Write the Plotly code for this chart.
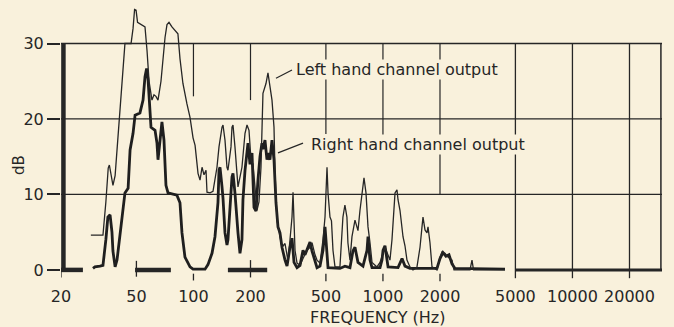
import plotly.graph_objects as go

# Left hand channel output (thin trace): frequency in Hz, level in dB
left_freq = [28.75, 33.3, 34.5, 35.5, 36.0, 36.7, 37.6, 38.6, 39.5, 41.5, 43.5, 46.85, 48.0, 48.9,
             49.8, 50.7, 53.5, 55.5, 56.9, 58.3, 60.4, 61.9, 63.4, 65.0, 67.4, 70.8, 72.5, 74.3,
             77.0, 79.9, 82.8, 84.9, 88.0, 92.4, 95.9, 99.5, 102, 105.7, 108.3, 111, 113.7, 116.5,
             117.9, 122.3, 126.8, 133.1, 136.4, 141.5, 143.2, 146.7, 150.3, 152.1, 157.8, 159.7,
             161.7, 165.6, 169.7, 171.8, 180.3, 187.1, 191.7, 196.4, 201.2, 206.2, 211.2, 216.4,
             221.7, 227.2, 232.7, 241.4, 247.3, 253.4, 259.7, 266.1, 269.3, 275.9, 282.7, 293.2,
             304.2, 315.5, 323.2, 331.2, 335.3, 339.4, 343.5, 352, 365, 378.6, 397.4, 412.2, 422.4,
             438, 448.8, 465.4, 482.7, 494.6, 506.8, 513, 525.4, 535, 544.9, 558.3, 592.9, 614.9,
             630, 645.5, 653.4, 669.7, 686.3, 711.9, 729.4, 738.3, 756.6, 784.7, 794.3, 813.9, 834,
             854.4, 875.5, 930, 965, 1001, 1025, 1051, 1089, 1116, 1130, 1158, 1186, 1201, 1230,
             1261, 1276, 1307, 1339, 1389, 1440, 1510, 1569, 1607, 1627, 1667, 1708, 1729, 1771,
             1815, 1928, 2000, 2049, 2125, 2204, 2314, 2371, 2880, 2951, 3005, 4406]
left_db = [4.6, 4.6, 9, 13.5, 13.9, 12.5, 11.2, 12.5, 15.7, 23, 30.0, 30.0, 32, 34.5,
           34.4, 32.8, 32.5, 32.2, 29, 25, 22.5, 23.2, 23, 22.5, 25, 30.8, 32.5, 32.8,
           32.2, 31.7, 31.3, 28, 24.7, 22, 20.2, 17.5, 16.5, 12.8, 11.9, 13.6, 12.6, 13.2,
           10.3, 10.2, 10.4, 13.6, 16.3, 18.9, 19.2, 17.2, 13.6, 13.2, 16.3, 18.9,
           19.2, 16.3, 12.3, 11, 13.6, 18.1, 19.2, 18.5, 14.6, 14, 11, 7.9,
           9, 13.6, 23.4, 24.7, 26.1, 24.2, 22.5, 18.9, 13.2, 6.6, 4.9, 3,
           3.5, 1.2, 4, 7, 10.3, 7, 2.6, 0.9, 0.6, 1.5, 2.6, 3, 3.6,
           2, 1.3, 0.9, 4, 7, 13.6, 10.2, 7, 6.5, 2.6, 0.4, 0.4, 7,
           8.6, 7, 3.6, 1.3, 4.4, 6.6, 5.5, 5.2, 7.9, 11.5, 12.2, 10.2, 5.7,
           3.6, 1, 0.4, 1, 2.2, 3, 2.3, 1.3, 4, 6.6, 10.2, 10.6, 9.3, 7.9,
           5.7, 4.4, 3.2, 1.3, 0.4, 0, 0.3, 3, 5.7, 7, 5.3, 4.9, 5.7, 3.6,
           0.4, 0, 1.7, 2.4, 2.2, 1.7, 1.3, 0, 0, 1.3, 0, 0]

# Right hand channel output (thick trace)
right_freq = [29.5, 30.2, 32.1, 33.3, 34.5, 35.35, 36.3, 37.15, 37.6, 38.6, 39.5, 41.0, 42.0, 43.5,
              45.2, 46.3, 48.0, 49.2, 52.2, 54.2, 55.5, 56.6, 57.6, 59.0, 59.7, 62.7, 64.2, 65.0,
              67.4, 68.2, 69.9, 71.6, 73.4, 81.8, 84.9, 87.0, 90.2, 95.9, 99.5, 115.1, 119.3, 125.3,
              129.9, 134.7, 136.4, 138.1, 141.5, 143.2, 146.7, 150.3, 152.1, 155.9, 159.7, 161.7,
              165.6, 171.8, 176, 180.3, 182.5, 187.1, 194, 198.8, 203.7, 208.7, 213.8, 219, 224.4,
              229.9, 232.7, 238.5, 244.3, 247.3, 253.4, 259.7, 266.1, 272.6, 279.3, 286.2, 293.2,
              304.2, 311.7, 323.2, 331.2, 339.4, 352, 365, 378.6, 387.9, 402.3, 412.2, 422.4, 432.8,
              448.8, 465.4, 482.7, 494.6, 506.8, 513, 592.9, 630, 669.7, 694.7, 711.9, 738.3, 784.7,
              823.9, 834, 854.4, 875.5, 965, 988.7, 1001, 1025, 1051, 1064, 1201, 1261, 1307, 1389,
              1928, 2000, 2074, 2151, 2231, 2314, 2400, 4406]
right_db = [0.2, 0.4, 0.5, 0.6, 4, 7, 7.3, 5, 2.5, 0.4, 1.3, 4.5, 7, 10.2,
            10.8, 15.9, 18.1, 20.5, 20.8, 22.5, 25.6, 26.7, 25.2, 20.8, 18.9, 18.5, 16.8, 14.6,
            18.1, 19.6, 17.2, 11.2, 10.2, 9.9, 8.9, 4.9, 1.7, 0.4, 0.1, 0.1, 0.7, 2.2,
            4.4, 8.9, 13.2, 13.6, 11, 9.5, 4.9, 3.3, 4, 8.3, 12.3, 12.8,
            10.2, 4.9, 2.2, 4, 9.3, 13.2, 16.8, 14, 15.5, 8.3, 7.8, 11.9, 15,
            16.8, 16, 17.2, 14.6, 15.5, 14.6, 17.2, 14.6, 8.9, 5.7, 4.9, 3,
            1.3, 0.5, 3, 4.2, 1, 0.3, 0.6, 2.6, 2, 3, 3.7, 2.5, 1.5,
            0.3, 0.5, 2.6, 5.7, 2.6, 0.3, 0.2, 0.5, 0.3, 2.5, 3, 1, 0.5,
            2.6, 4.4, 1.3, 0.3, 0.3, 1.3, 2.6, 3.2, 1.5, 0.4, 0.3, 1.5, 0.5, 0.2,
            0.2, 1.5, 2.3, 1.8, 2, 0.8, 0.2, 0.1]

# Axis ticks
freq_ticks = [20, 50, 100, 200, 500, 1000, 2000, 5000, 10000, 20000]
freq_labels = ["20", "50", "100", "200", "500", "1000", "2000", "5000", "10000", "20000"]
db_ticks = [0, 10, 20, 30]

F_MIN, F_MAX = 20, 29690
INK = "#262626"
PAPER = "#f9f1dc"
FONT = "DejaVu Sans"

fig = go.Figure()


def seg(xs, ys, width, color=INK):
    fig.add_trace(go.Scatter(x=xs, y=ys, mode="lines", line=dict(color=color, width=width),
                             hoverinfo="skip", showlegend=False))


# horizontal rules at 10, 20, 30 dB
for level in (10, 20, 30):
    seg([F_MIN, F_MAX], [level, level], 1.3)

# vertical rules (partial where the chart leaves them short)
for f, lo in [(100, 23), (200, 22.5), (500, 18), (1000, 17.8), (2000, 10)]:
    seg([f, f], [lo, 30], 1.2)
for f in (5000, 10000, 20000):
    seg([f, f], [-1.1, 30], 1.3)
seg([29300, 29300], [0, 30], 1.5)

# heavy left edge
seg([20.6, 20.6], [0, 30], 4.5)

# heavy 0 dB segments
for a, b in [(20, 26.1), (49.2, 76), (152, 245)]:
    seg([a, b], [0, 0], 4.5)
seg([5000, F_MAX], [0, 0], 3)

# short ticks under the baseline
for f, lo, hi in [(20, -1.0, 0), (50, -0.9, 1.2), (100, -1.4, -0.5), (200, -1.0, 1.3),
                  (500, -1.5, -0.5), (1000, -1.5, -0.5), (2000, -1.5, -0.5)]:
    seg([f, f], [lo, hi], 1.3)

# response curves
fig.add_trace(go.Scatter(x=right_freq, y=right_db, mode="lines",
                         line=dict(color="#1f1f1f", width=2.8), showlegend=False,
                         name="Right hand channel output"))
fig.add_trace(go.Scatter(x=left_freq, y=left_db, mode="lines",
                         line=dict(color=INK, width=1.3), showlegend=False,
                         name="Left hand channel output"))

# leader lines to the labels
seg([272.6, 331.2], [25.4, 26.5], 1.2)
seg([279.3, 378.6], [15.5, 16.8], 1.2)

fig.update_layout(
    width=674, height=327,
    margin=dict(l=61, r=12, t=2, b=42),
    paper_bgcolor=PAPER, plot_bgcolor=PAPER,
    font=dict(family=FONT, color=INK),
    xaxis=dict(type="log", range=[1.30103, 4.47261], showgrid=False, zeroline=False,
               showline=False, tickvals=freq_ticks, ticktext=freq_labels, ticks="",
               tickfont=dict(size=16, color=INK, family=FONT)),
    yaxis=dict(range=[-2, 35.5], showgrid=False, zeroline=False, showline=False,
               tickvals=db_ticks, ticks="outside", ticklen=13, tickwidth=1.5, tickcolor=INK,
               tickfont=dict(size=16, color=INK, family=FONT)),
    annotations=[
        dict(text="Left hand channel output", xref="paper", yref="paper", x=0.389, y=0.760,
             xanchor="left", yanchor="middle", showarrow=False, bgcolor=PAPER, borderpad=0,
             font=dict(size=16, color=INK, family=FONT)),
        dict(text="Right hand channel output", xref="paper", yref="paper", x=0.414, y=0.498,
             xanchor="left", yanchor="middle", showarrow=False, bgcolor=PAPER, borderpad=0,
             font=dict(size=16, color=INK, family=FONT)),
        dict(text="FREQUENCY (Hz)", xref="paper", yref="paper", x=0.527, y=-0.1166,
             xanchor="center", yanchor="middle", showarrow=False,
             font=dict(size=16, color=INK, family=FONT)),
        dict(text="dB", xref="paper", yref="paper", x=-0.0699, y=0.424, textangle=-90,
             xanchor="center", yanchor="middle", showarrow=False,
             font=dict(size=15, color=INK, family=FONT)),
    ],
)

fig.write_html("out.html")
